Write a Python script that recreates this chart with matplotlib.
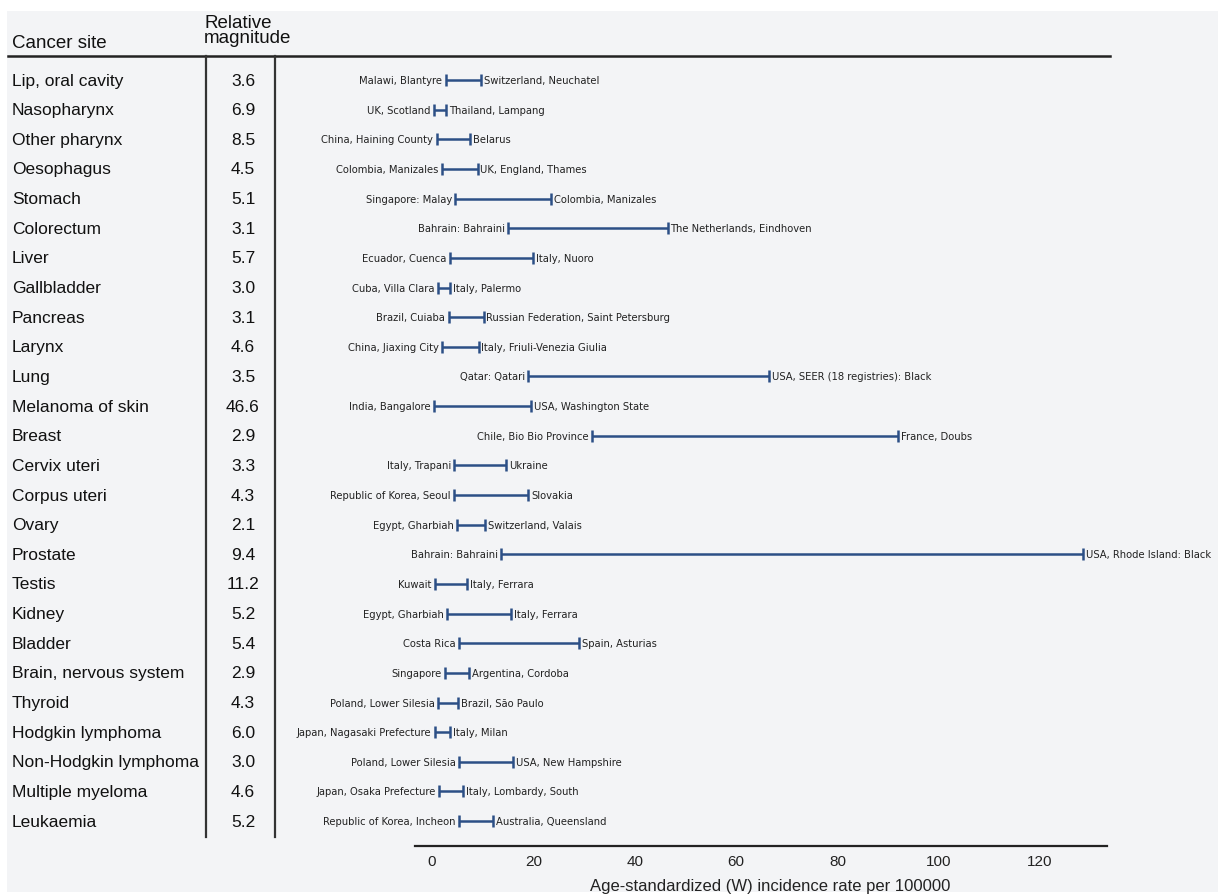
import numpy as np
from matplotlib import pyplot as plt
from matplotlib.lines import Line2D
from matplotlib.patches import Rectangle
from matplotlib.transforms import blended_transform_factory

plt.rcParams['font.family'] = ['Liberation Sans', 'DejaVu Sans']

# data
sites = ["Lip, oral cavity", "Nasopharynx", "Other pharynx", "Oesophagus", "Stomach",
         "Colorectum", "Liver", "Gallbladder", "Pancreas", "Larynx", "Lung",
         "Melanoma of skin", "Breast", "Cervix uteri", "Corpus uteri", "Ovary",
         "Prostate", "Testis", "Kidney", "Bladder", "Brain, nervous system",
         "Thyroid", "Hodgkin lymphoma", "Non-Hodgkin lymphoma", "Multiple myeloma",
         "Leukaemia"]
magnitude = ["3.6", "6.9", "8.5", "4.5", "5.1", "3.1", "5.7", "3.0", "3.1", "4.6", "3.5",
             "46.6", "2.9", "3.3", "4.3", "2.1", "9.4", "11.2", "5.2", "5.4", "2.9",
             "4.3", "6.0", "3.0", "4.6", "5.2"]
low = [2.7, 0.4, 0.9, 2.0, 4.6, 15.0, 3.5, 1.2, 3.3, 2.0, 19.0, 0.42, 31.6, 4.4, 4.4,
       5.0, 13.7, 0.62, 3.0, 5.4, 2.5, 1.2, 0.6, 5.3, 1.35, 5.3]
high = [9.7, 2.8, 7.5, 9.0, 23.5, 46.5, 20.0, 3.6, 10.2, 9.2, 66.5, 19.6, 92.0, 14.6, 19.0,
        10.5, 128.5, 7.0, 15.6, 29.0, 7.3, 5.2, 3.6, 16.0, 6.2, 12.0]
low_where = ["Malawi, Blantyre", "UK, Scotland", "China, Haining County", "Colombia, Manizales",
             "Singapore: Malay", "Bahrain: Bahraini", "Ecuador, Cuenca", "Cuba, Villa Clara",
             "Brazil, Cuiaba", "China, Jiaxing City", "Qatar: Qatari", "India, Bangalore",
             "Chile, Bio Bio Province", "Italy, Trapani", "Republic of Korea, Seoul",
             "Egypt, Gharbiah", "Bahrain: Bahraini", "Kuwait", "Egypt, Gharbiah", "Costa Rica",
             "Singapore", "Poland, Lower Silesia", "Japan, Nagasaki Prefecture",
             "Poland, Lower Silesia", "Japan, Osaka Prefecture", "Republic of Korea, Incheon"]
high_where = ["Switzerland, Neuchatel", "Thailand, Lampang", "Belarus", "UK, England, Thames",
              "Colombia, Manizales", "The Netherlands, Eindhoven", "Italy, Nuoro", "Italy, Palermo",
              "Russian Federation, Saint Petersburg", "Italy, Friuli-Venezia Giulia",
              "USA, SEER (18 registries): Black", "USA, Washington State", "France, Doubs",
              "Ukraine", "Slovakia", "Switzerland, Valais", "USA, Rhode Island: Black",
              "Italy, Ferrara", "Italy, Ferrara", "Spain, Asturias", "Argentina, Cordoba",
              "Brazil, São Paulo", "Italy, Milan", "USA, New Hampshire", "Italy, Lombardy, South",
              "Australia, Queensland"]
xticks = [0, 20, 40, 60, 80, 100, 120]

W, H = 1218, 895
fig = plt.figure(figsize=(W / 100, H / 100), dpi=100, facecolor='white')
bg = '#f3f4f6'
fig.add_artist(Rectangle((7 / W, 1 - 893 / H), 1, (893 - 12) / H,
                         transform=fig.transFigure, facecolor=bg, edgecolor='none', zorder=-10))

ax = fig.add_axes([415 / W, 1 - 847 / H, 692 / W, 790 / H])
ax.set_facecolor('none')
n = len(sites)
rows = np.arange(n)
ax.set_xlim(-3.36, 133.2)
ax.set_ylim(25.84, -0.81)

blue = '#2c4f86'
ax.hlines(rows, low, high, color=blue, lw=1.8, clip_on=False)
ax.plot(low, rows, '|', color=blue, ms=8, mew=1.8, clip_on=False)
ax.plot(high, rows, '|', color=blue, ms=8, mew=1.8, clip_on=False)

# the small registry names sit just outside each end cap
small = dict(fontsize=7.2, color='#222222', family='DejaVu Sans', annotation_clip=False)
for i in range(n):
    ax.annotate(low_where[i], (low[i], i), xytext=(-2.5, 0), textcoords='offset points',
                ha='right', va='center', **small)
    ax.annotate(high_where[i], (high[i], i), xytext=(2, 0), textcoords='offset points',
                ha='left', va='center', **small)

for s in ['top', 'left', 'right']:
    ax.spines[s].set_visible(False)
ax.spines['bottom'].set_linewidth(1.6)
ax.spines['bottom'].set_color('#222222')
ax.set_yticks([])
ax.set_xticks(xticks)
ax.tick_params(axis='x', length=0, pad=6, labelsize=11, labelcolor='#222222')
ax.set_xlabel("Age-standardized (W) incidence rate per 100000", fontsize=12, color='#222222')
ax.xaxis.set_label_coords((770 - 415) / 692, -0.041)

# table part on the left
tr = blended_transform_factory(fig.transFigure, ax.transData)
for i in range(n):
    ax.text(12 / W, i, sites[i], transform=tr, ha='left', va='center', fontsize=12.5,
            color='#111111')
    ax.text(243 / W, i, magnitude[i], transform=tr, ha='center', va='center', fontsize=12.5,
            color='#111111')

fig.text(12 / W, 1 - 43 / H, "Cancer site", ha='left', va='center', fontsize=13.5, color='#111111')
fig.text(204 / W, 1 - 31 / H, "Relative\nmagnitude", ha='left', va='center', fontsize=13.5,
         color='#111111', linespacing=0.85)

fig.add_artist(Line2D([8 / W, 1110 / W], [1 - 57 / H, 1 - 57 / H], transform=fig.transFigure,
                      color='#222222', lw=1.8))
for xv in [206, 275]:
    fig.add_artist(Line2D([xv / W, xv / W], [1 - 57 / H, 1 - 838 / H], transform=fig.transFigure,
                          color='#333333', lw=1.6))

fig.savefig('out.png', dpi=100, facecolor=fig.get_facecolor())
